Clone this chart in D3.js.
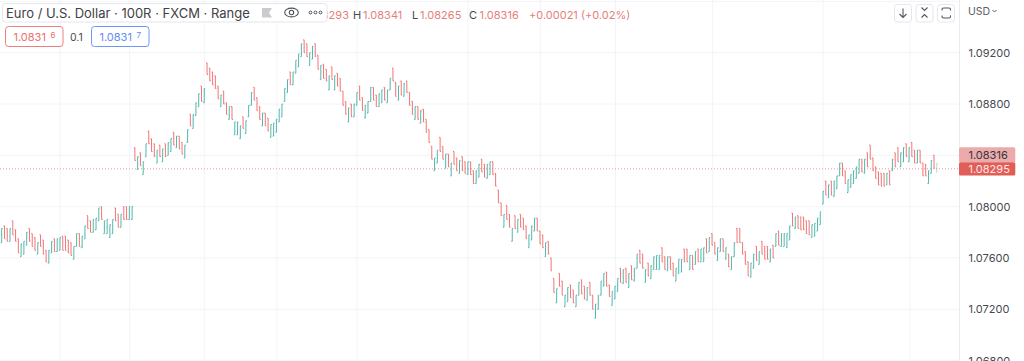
<!DOCTYPE html>
<html lang="en">
<head>
<meta charset="UTF-8">
<title>EUR/USD 100R Range</title>
<style>
    html, body { margin: 0; padding: 0; background: #fff; overflow: hidden; }
    svg { display: block; font-family: Inter, "Noto Sans", sans-serif; }
</style>
<script src="https://d3js.org/d3.v7.min.js"></script>
</head>
<body>
<div id="chart-container"></div>
<script>
    // one entry per range bar
    const highs = [
        1.0783,1.0785,1.0783,1.0783,1.0789,1.0782,1.0775,1.0771,1.0773,1.0780,
        1.0783,1.0779,1.0776,1.0772,1.0778,1.0774,1.0766,1.0766,1.0773,1.0775,
        1.0775,1.0776,1.0777,1.0777,1.0774,1.0772,1.0769,1.0779,1.0779,1.0777,
        1.0785,1.0793,1.0789,1.0790,1.0791,1.0799,1.0800,1.0789,1.0790,1.0786,
        1.0790,1.0799,1.0794,1.0794,1.0800,1.0800,1.0800,1.0800,1.0846,1.0839,
        1.0842,1.0835,1.0849,1.0859,1.0853,1.0849,1.0844,1.0848,1.0845,1.0849,
        1.0850,1.0853,1.0858,1.0855,1.0855,1.0850,1.0848,1.0860,1.0872,1.0872,
        1.0881,1.0888,1.0894,1.0892,1.0912,1.0908,1.0905,1.0902,1.0894,1.0887,
        1.0890,1.0881,1.0878,1.0878,1.0866,1.0866,1.0863,1.0870,1.0867,1.0879,
        1.0889,1.0893,1.0885,1.0878,1.0873,1.0873,1.0869,1.0864,1.0865,1.0868,
        1.0876,1.0880,1.0892,1.0899,1.0905,1.0905,1.0914,1.0919,1.0927,1.0930,
        1.0927,1.0920,1.0925,1.0927,1.0918,1.0910,1.0911,1.0907,1.0902,1.0909,
        1.0902,1.0904,1.0900,1.0890,1.0882,1.0877,1.0880,1.0880,1.0889,1.0894,
        1.0885,1.0879,1.0882,1.0893,1.0893,1.0887,1.0888,1.0891,1.0893,1.0891,
        1.0900,1.0908,1.0897,1.0894,1.0898,1.0896,1.0898,1.0889,1.0882,1.0878,
        1.0878,1.0875,1.0876,1.0868,1.0860,1.0847,1.0838,1.0844,1.0854,1.0847,
        1.0841,1.0841,1.0834,1.0843,1.0838,1.0836,1.0839,1.0835,1.0835,1.0835,
        1.0828,1.0828,1.0833,1.0837,1.0833,1.0833,1.0835,1.0835,1.0826,1.0813,
        1.0803,1.0794,1.0801,1.0794,1.0783,1.0793,1.0790,1.0794,1.0791,1.0785,
        1.0778,1.0785,1.0791,1.0791,1.0781,1.0778,1.0772,1.0773,1.0760,1.0744,
        1.0736,1.0748,1.0742,1.0731,1.0737,1.0739,1.0735,1.0731,1.0741,1.0743,
        1.0738,1.0737,1.0741,1.0731,1.0724,1.0731,1.0742,1.0748,1.0749,1.0739,
        1.0734,1.0738,1.0744,1.0752,1.0751,1.0752,1.0748,1.0754,1.0752,1.0763,
        1.0766,1.0763,1.0751,1.0756,1.0754,1.0761,1.0762,1.0762,1.0768,1.0761,
        1.0761,1.0761,1.0756,1.0752,1.0759,1.0759,1.0767,1.0767,1.0762,1.0762,
        1.0765,1.0767,1.0767,1.0768,1.0775,1.0776,1.0779,1.0772,1.0768,1.0775,
        1.0775,1.0768,1.0763,1.0761,1.0772,1.0783,1.0783,1.0772,1.0765,1.0757,
        1.0756,1.0763,1.0769,1.0765,1.0773,1.0769,1.0769,1.0767,1.0770,1.0779,
        1.0781,1.0779,1.0779,1.0779,1.0785,1.0795,1.0792,1.0793,1.0792,1.0792,
        1.0789,1.0789,1.0786,1.0787,1.0791,1.0796,1.0812,1.0820,1.0817,1.0820,
        1.0820,1.0824,1.0834,1.0834,1.0828,1.0821,1.0825,1.0828,1.0831,1.0837,
        1.0837,1.0837,1.0842,1.0848,1.0838,1.0831,1.0827,1.0826,1.0826,1.0826,
        1.0828,1.0837,1.0842,1.0846,1.0842,1.0846,1.0849,1.0846,1.0850,1.0844,
        1.0844,1.0844,1.0834,1.0833,1.0828,1.0836,1.0840,1.0834
    ];
    const lows = [
        1.0772,1.0775,1.0773,1.0773,1.0778,1.0773,1.0764,1.0761,1.0763,1.0770,
        1.0773,1.0769,1.0766,1.0763,1.0769,1.0763,1.0757,1.0756,1.0764,1.0765,
        1.0765,1.0766,1.0766,1.0766,1.0764,1.0762,1.0759,1.0769,1.0769,1.0768,
        1.0775,1.0783,1.0780,1.0780,1.0782,1.0789,1.0790,1.0779,1.0779,1.0776,
        1.0779,1.0789,1.0784,1.0784,1.0790,1.0790,1.0790,1.0790,1.0836,1.0829,
        1.0832,1.0825,1.0839,1.0849,1.0843,1.0839,1.0834,1.0839,1.0835,1.0839,
        1.0840,1.0843,1.0848,1.0846,1.0845,1.0841,1.0838,1.0850,1.0863,1.0861,
        1.0871,1.0878,1.0882,1.0881,1.0903,1.0898,1.0895,1.0892,1.0884,1.0878,
        1.0880,1.0872,1.0868,1.0868,1.0856,1.0856,1.0853,1.0861,1.0857,1.0870,
        1.0879,1.0883,1.0875,1.0868,1.0863,1.0863,1.0859,1.0854,1.0855,1.0858,
        1.0866,1.0870,1.0882,1.0889,1.0895,1.0895,1.0904,1.0909,1.0917,1.0920,
        1.0917,1.0910,1.0915,1.0917,1.0907,1.0899,1.0900,1.0898,1.0891,1.0899,
        1.0891,1.0894,1.0890,1.0879,1.0872,1.0866,1.0870,1.0870,1.0879,1.0883,
        1.0875,1.0869,1.0873,1.0882,1.0883,1.0878,1.0878,1.0881,1.0883,1.0881,
        1.0891,1.0898,1.0886,1.0883,1.0887,1.0886,1.0889,1.0879,1.0872,1.0868,
        1.0868,1.0865,1.0866,1.0858,1.0850,1.0837,1.0828,1.0834,1.0843,1.0837,
        1.0830,1.0831,1.0824,1.0833,1.0828,1.0826,1.0828,1.0826,1.0825,1.0825,
        1.0818,1.0818,1.0823,1.0827,1.0823,1.0822,1.0825,1.0825,1.0816,1.0803,
        1.0793,1.0784,1.0790,1.0784,1.0773,1.0783,1.0780,1.0784,1.0782,1.0775,
        1.0768,1.0774,1.0781,1.0781,1.0771,1.0768,1.0761,1.0763,1.0750,1.0733,
        1.0725,1.0738,1.0731,1.0722,1.0726,1.0729,1.0725,1.0722,1.0731,1.0732,
        1.0728,1.0727,1.0731,1.0720,1.0713,1.0720,1.0731,1.0738,1.0738,1.0730,
        1.0723,1.0728,1.0734,1.0741,1.0740,1.0741,1.0737,1.0743,1.0742,1.0752,
        1.0756,1.0752,1.0741,1.0746,1.0744,1.0751,1.0751,1.0751,1.0757,1.0751,
        1.0750,1.0751,1.0746,1.0742,1.0748,1.0749,1.0757,1.0757,1.0751,1.0751,
        1.0755,1.0757,1.0757,1.0757,1.0764,1.0765,1.0770,1.0763,1.0758,1.0765,
        1.0765,1.0759,1.0753,1.0751,1.0761,1.0772,1.0772,1.0763,1.0755,1.0746,
        1.0745,1.0752,1.0758,1.0755,1.0763,1.0759,1.0759,1.0757,1.0760,1.0769,
        1.0770,1.0769,1.0769,1.0768,1.0774,1.0785,1.0783,1.0783,1.0782,1.0782,
        1.0779,1.0778,1.0776,1.0777,1.0781,1.0786,1.0802,1.0809,1.0807,1.0809,
        1.0808,1.0814,1.0824,1.0824,1.0818,1.0811,1.0815,1.0818,1.0822,1.0826,
        1.0827,1.0826,1.0831,1.0837,1.0828,1.0822,1.0817,1.0816,1.0816,1.0817,
        1.0817,1.0828,1.0831,1.0835,1.0831,1.0835,1.0839,1.0835,1.0839,1.0834,
        1.0834,1.0834,1.0824,1.0824,1.0818,1.0826,1.0830,1.0827
    ];
    // g = up bar (opened at low, closed at high), r = down bar
    const directions = (
        "grrgrrrggg" + "rrrgrrrggr" + "ggrrrrggrg" + "grrgggrggg" +
        "grrgrrggrg" + "rggrrrgrgr" + "ggrgrrggrg" + "ggrgrrrrrg" +
        "rrgrgggrgg" + "grrrgrrggg" + "ggggrggggr" + "rggrrgrrgr" +
        "grrrrgrggr" + "rgggrrggrg" + "grrgrgrrrg" + "rgrrrrggrr" +
        "grgrrgrrgr" + "rggrrggrrr" + "rgrrgrgrrr" + "gggrrrgrrr" +
        "grrggrrggr" + "rgrrggggrr" + "gggrgrgrgg" + "rrgrggggrr" +
        "grrgggrrgr" + "grggrgrrgg" + "rgrggrrrrr" + "ggrgrrrgrg" +
        "rggggrgrrr" + "rrgggggrgr" + "gggrrggggg" + "rgrrrrrrrg" +
        "rgrrggrgrr" + "grrrggrg"
    ).split("");

    const priceTicks = [1.096, 1.092, 1.088, 1.084, 1.08, 1.076, 1.072, 1.068];
    const hiddenLabels = [1.096, 1.084];
    // bar positions of the time grid lines
    const timeGridBars = [21, 46.1, 73, 99.2, 128.1, 168, 194.1, 221.2, 256.2, 296, 327.3];

    const lastPrice = 1.08295;
    const lastClose = 1.08316;
    const symbolTitle = "Euro / U.S. Dollar · 100R · FXCM · Range";
    const ohlcLegend = [
        {label: "O", value: "1.08293", x: 297, gap: 10.5},
        {label: "H", value: "1.08341", x: 353, gap: 10},
        {label: "L", value: "1.08265", x: 412, gap: 8},
        {label: "C", value: "1.08316", x: 469, gap: 10.5}
    ];
    const changeLegend = "+0.00021 (+0.02%)";

    const WIDTH = 1024, HEIGHT = 361, PLOT_RIGHT = 959;
    const RED = "#ef5350", GREEN = "#26a69a", GRID = "#f3f4f9", TEXT = "#474a52";

    const x = d3.scaleLinear().domain([0, highs.length - 1]).range([1.7, 936.8]);
    const y = d3.scaleLinear().domain([1.072, 1.092]).range([309.3, 52.7]);

    const svg = d3.select("#chart-container").append("svg")
        .attr("width", WIDTH)
        .attr("height", HEIGHT);

    // grid
    const grid = svg.append("g").attr("stroke", GRID).attr("stroke-width", 1);
    grid.selectAll(".h").data(priceTicks).enter().append("line")
        .attr("x1", 0).attr("x2", PLOT_RIGHT)
        .attr("y1", d => y(d)).attr("y2", d => y(d));
    grid.selectAll(".v").data(timeGridBars).enter().append("line")
        .attr("x1", d => x(d)).attr("x2", d => x(d))
        .attr("y1", 0).attr("y2", HEIGHT);

    // last price line
    svg.append("line")
        .attr("x1", 0).attr("x2", PLOT_RIGHT)
        .attr("y1", y(lastPrice)).attr("y2", y(lastPrice))
        .attr("stroke", RED)
        .attr("stroke-opacity", 0.6)
        .attr("stroke-dasharray", "1 2");

    // bars
    const bars = highs.map((h, i) => ({
        i: i,
        high: h,
        low: lows[i],
        open: directions[i] === "g" ? lows[i] : h,
        close: directions[i] === "g" ? h : lows[i],
        dir: directions[i]
    }));

    svg.append("g").selectAll("path").data(bars).enter().append("path")
        .attr("fill", "none")
        .attr("stroke", d => d.dir === "g" ? GREEN : RED)
        .attr("stroke-opacity", d => d.i === bars.length - 1 ? 0.35 : 0.8)
        .attr("stroke-width", 1)
        .attr("d", d => `M${x(d.i)},${y(d.high)}V${y(d.low)}`
            + `M${x(d.i) - 1},${y(d.open)}H${x(d.i)}`
            + `M${x(d.i)},${y(d.close)}H${x(d.i) + 1}`);

    // price axis
    svg.append("rect").attr("x", PLOT_RIGHT).attr("y", 0)
        .attr("width", WIDTH - PLOT_RIGHT).attr("height", HEIGHT).attr("fill", "#fff");
    svg.append("line").attr("x1", PLOT_RIGHT + 0.5).attr("x2", PLOT_RIGHT + 0.5)
        .attr("y1", 0).attr("y2", HEIGHT).attr("stroke", "#e9ebf1");

    const yAxis = d3.axisRight(y)
        .tickValues(priceTicks.filter(d => !hiddenLabels.includes(d)))
        .tickSize(0)
        .tickPadding(0)
        .tickFormat(d3.format(".5f"));
    const axisGroup = svg.append("g")
        .attr("transform", "translate(968.5,0)")
        .call(yAxis);
    axisGroup.select(".domain").remove();
    axisGroup.selectAll("text")
        .attr("font-family", "Inter, sans-serif")
        .attr("font-size", 11)
        .attr("fill", TEXT);

    svg.append("text").attr("x", 968).attr("y", 15)
        .attr("font-size", 10.5).attr("fill", "#5a5d66").text("USD");
    svg.append("path").attr("d", "M992.5,10l2,2l2,-2")
        .attr("fill", "none").attr("stroke", "#5a5d66").attr("stroke-width", 1);

    // price labels
    const priceLabels = [
        {value: lastClose, top: 147.3, h: 15, fill: "#ecabab", color: "#33353a"},
        {value: lastPrice, top: 162.3, h: 13.2, fill: "#e05e57", color: "#fde8e6"}
    ];
    const labelGroups = svg.append("g").selectAll("g").data(priceLabels).enter().append("g");
    labelGroups.append("rect")
        .attr("x", PLOT_RIGHT).attr("y", d => d.top)
        .attr("width", 56.3).attr("height", d => d.h)
        .attr("rx", 1.5).attr("fill", d => d.fill);
    labelGroups.append("text")
        .attr("x", 968.5).attr("y", d => d.top + d.h / 2 + 3.9)
        .attr("font-size", 11).attr("fill", d => d.color)
        .text(d => d3.format(".5f")(d.value));

    // ohlc legend
    const legend = svg.append("g").attr("font-size", 11);
    ohlcLegend.forEach(d => {
        legend.append("text").attr("x", d.x).attr("y", 19).attr("fill", TEXT).text(d.label);
        legend.append("text").attr("x", d.x + d.gap)
            .attr("y", 19).attr("fill", "#e57f7b").text(d.value);
    });
    legend.append("text").attr("x", 529).attr("y", 19).attr("fill", "#e57f7b").text(changeLegend);

    // symbol box sits over the start of the legend
    svg.append("rect").attr("x", 2.5).attr("y", 3.5).attr("width", 324.5).attr("height", 18.5)
        .attr("rx", 3).attr("fill", "#fff").attr("stroke", "#e4e6ee");
    svg.append("text").attr("x", 6).attr("y", 18)
        .attr("font-size", 13).attr("fill", "#3f4148").text(symbolTitle);
    svg.append("path").attr("d", "M262,8H272L269,12.8L272,17.5H262Z").attr("fill", "#c9cbd1");
    svg.append("ellipse").attr("cx", 291.5).attr("cy", 12.5).attr("rx", 6.8).attr("ry", 4.4)
        .attr("fill", "none").attr("stroke", "#4d5058").attr("stroke-width", 1.1);
    svg.append("circle").attr("cx", 291.5).attr("cy", 12.5).attr("r", 2.2)
        .attr("fill", "none").attr("stroke", "#4d5058").attr("stroke-width", 1.1);
    svg.selectAll(".dot").data([310.5, 315.5, 320.5]).enter().append("circle")
        .attr("cx", d => d).attr("cy", 12.5).attr("r", 1.4)
        .attr("fill", "none").attr("stroke", "#4d5058").attr("stroke-width", 1);

    // bid / spread / ask
    const quotes = [
        {x: 5.5, big: "1.0831", small: "6", stroke: "#ef7f7f", color: "#ef6f6f"},
        {x: 91.5, big: "1.0831", small: "7", stroke: "#6f97f7", color: "#5f8cf5"}
    ];
    quotes.forEach(q => {
        svg.append("rect").attr("x", q.x).attr("y", 26.5).attr("width", 57.5).attr("height", 20)
            .attr("rx", 3).attr("fill", "#fff").attr("stroke", q.stroke);
        svg.append("text").attr("x", q.x + 8).attr("y", 40.5)
            .attr("font-size", 11).attr("fill", q.color).text(q.big);
        svg.append("text").attr("x", q.x + 45).attr("y", 38)
            .attr("font-size", 8).attr("fill", q.color).text(q.small);
    });
    svg.append("text").attr("x", 70).attr("y", 40.5)
        .attr("font-size", 10.5).attr("fill", TEXT).text("0.1");

    // buttons
    const buttons = [
        {x: 894.5, icon: "M903,8.5V17.5M899.5,14L903,17.5L906.5,14"},
        {x: 916, icon: "M921.5,7.5L924.5,10.5L927.5,7.5M921.5,17.5L924.5,14.5L927.5,17.5"},
        {x: 937.5, icon: "M942,10.5V9.5Q942,8 943.5,8H949Q950.5,8 950.5,9.5V10.5M942,15.5V16.5Q942,18 943.5,18H949Q950.5,18 950.5,16.5V15.5"}
    ];
    buttons.forEach(b => {
        svg.append("rect").attr("x", b.x).attr("y", 4.5).attr("width", 17).attr("height", 17.5)
            .attr("rx", 3).attr("fill", "#fff").attr("stroke", "#e4e6ee");
        svg.append("path").attr("d", b.icon)
            .attr("fill", "none").attr("stroke", "#53565e").attr("stroke-width", 1.1);
    });
</script>
</body>
</html>
